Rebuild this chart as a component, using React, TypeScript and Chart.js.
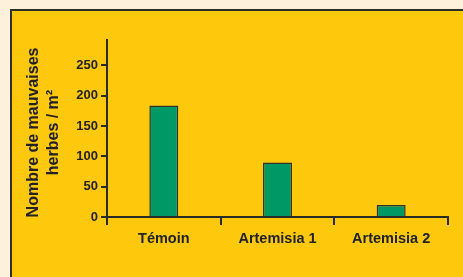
import React, { useEffect, useRef } from "react";
import { Chart, registerables } from "chart.js";

Chart.register(...registerables);

const categories = ["Témoin", "Artemisia 1", "Artemisia 2"];
const weedCounts = [184, 90, 20];
const yTicks = [0, 50, 100, 150, 200, 250];
const yMax = 292;
const yTitle = ["Nombre de mauvaises\u2002", "herbes / m²\u2002"];

const FONT = "'Liberation Sans', Arial, Helvetica, sans-serif";
const DARK = "#2a2a26";

export default function App() {
  const ref = useRef<HTMLCanvasElement | null>(null);

  useEffect(() => {
    if (!ref.current) return;
    const chart = new Chart(ref.current, {
      type: "bar",
      data: {
        labels: categories,
        datasets: [
          {
            data: weedCounts,
            backgroundColor: "#009966",
            borderColor: "#33332a",
            borderWidth: 1.5,
            barPercentage: 0.255,
            categoryPercentage: 1,
          },
        ],
      },
      options: {
        animation: false,
        responsive: false,
        maintainAspectRatio: false,
        layout: { padding: { left: 0, top: 40, right: 15, bottom: 0 } },
        plugins: { legend: { display: false }, tooltip: { enabled: false } },
        scales: {
          x: {
            offset: true,
            grid: {
              offset: true,
              drawOnChartArea: false,
              drawTicks: true,
              tickLength: 8,
              color: DARK,
              lineWidth: 2,
            },
            border: { display: true, color: DARK, width: 2 },
            ticks: {
              color: "#222",
              padding: 5,
              font: { family: FONT, size: 14.5, weight: "bold" },
            },
            afterFit: (scale: any) => {
              scale.height = 60;
            },
          },
          y: {
            min: 0,
            max: yMax,
            grid: {
              drawOnChartArea: false,
              drawTicks: true,
              tickLength: 6,
              color: DARK,
              lineWidth: 2,
            },
            border: { display: true, color: DARK, width: 2 },
            ticks: {
              color: "#222",
              padding: 3,
              font: { family: FONT, size: 13, weight: "bold" },
            },
            afterBuildTicks: (scale: any) => {
              scale.ticks = yTicks.map((v) => ({ value: v }));
            },
            title: {
              display: true,
              text: yTitle,
              color: "#222",
              padding: { top: 23, bottom: 0 },
              font: { family: FONT, size: 16, weight: "bold", lineHeight: 1.28 },
            },
            afterFit: (scale: any) => {
              scale.width = 107;
            },
          },
        },
      },
    });
    return () => chart.destroy();
  }, []);

  return (
    <div
      style={{
        position: "fixed",
        left: 0,
        top: 0,
        width: 463,
        height: 277,
        background: "#fdf1db",
        overflow: "hidden",
      }}
    >
      <div
        style={{
          position: "absolute",
          left: 10,
          top: 9,
          width: 463,
          height: 277,
          background: "#fec90d",
          borderTop: "2px solid #2f2f2a",
          borderLeft: "2px solid #2f2f2a",
        }}
      />
      <canvas
        ref={ref}
        width={463}
        height={277}
        style={{ position: "absolute", left: 0, top: 0, width: 463, height: 277 }}
      />
    </div>
  );
}
